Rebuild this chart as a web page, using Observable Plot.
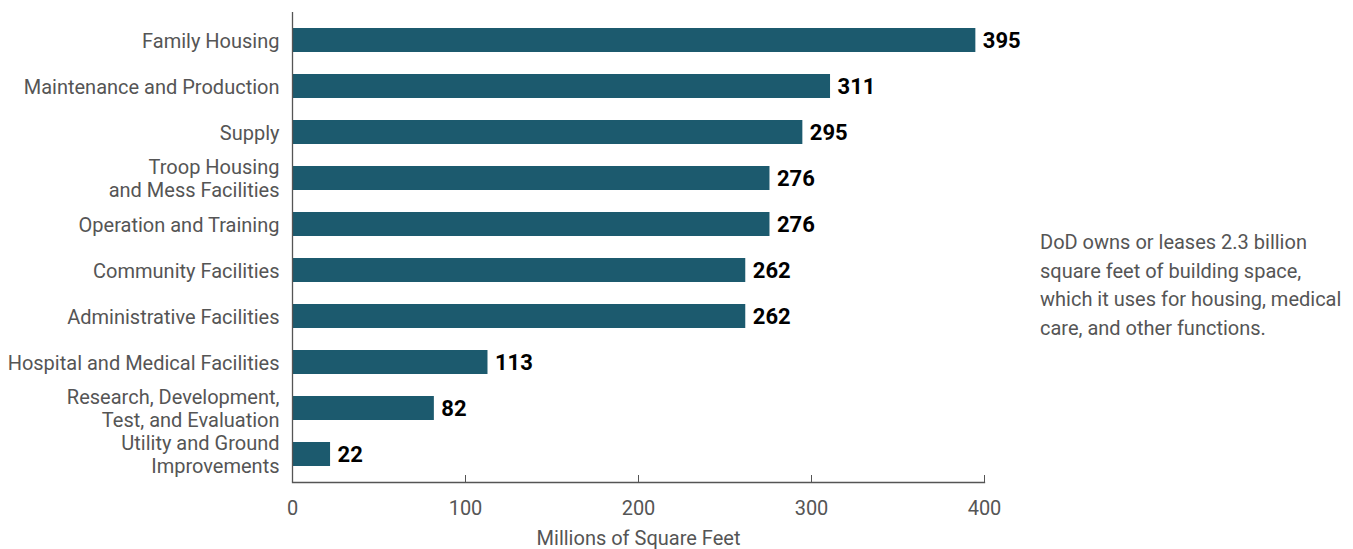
<!DOCTYPE html>
<html>
<head>
<meta charset="utf-8">
<script src="https://cdn.jsdelivr.net/npm/d3@7"></script>
<script src="https://cdn.jsdelivr.net/npm/@observablehq/plot@0.6"></script>
<style>
  html, body { margin: 0; padding: 0; background: #fff; }
  #wrap { position: relative; width: 1353px; height: 549px; font-family: Roboto, "Open Sans", sans-serif; }
  #note { position: absolute; left: 1040px; top: 228px; width: 310px; font-size: 20px; line-height: 28.5px; color: #555; }
</style>
</head>
<body>
<div id="wrap">
  <div id="chart"></div>
  <div id="note">DoD owns or leases 2.3 billion square feet of building space, which it uses for housing, medical care, and other functions.</div>
</div>
<script>
const categories = [
  "Family Housing",
  "Maintenance and Production",
  "Supply",
  "Troop Housing\nand Mess Facilities",
  "Operation and Training",
  "Community Facilities",
  "Administrative Facilities",
  "Hospital and Medical Facilities",
  "Research, Development,\nTest, and Evaluation",
  "Utility and Ground\nImprovements"
];
const values = [395, 311, 295, 276, 276, 262, 262, 113, 82, 22];
const xTicks = [0, 100, 200, 300, 400];
const xLabel = "Millions of Square Feet";

const data = categories.map((c, i) => ({category: c, value: values[i]}));

const chart = Plot.plot({
  width: 1353,
  height: 549,
  marginLeft: 292,
  marginRight: 369,
  marginTop: 12,
  marginBottom: 67,
  style: {fontFamily: "Roboto, sans-serif", fontSize: "20px", color: "#555", background: "#fff"},
  x: {domain: [0, 400]},
  y: {domain: categories, paddingInner: 0.48, paddingOuter: 0.33},
  marks: [
    Plot.barX(data, {x: "value", y: "category", fill: "#1c5a6e"}),
    Plot.text(data, {x: "value", y: "category", text: d => String(d.value), textAnchor: "start", dx: 7, fill: "#000", fontWeight: "bold", fontSize: 22}),
    Plot.ruleX([0], {stroke: "#555", strokeWidth: 1.3}),
    Plot.frame({anchor: "bottom", stroke: "#555", strokeWidth: 1.3}),
    Plot.axisY({tickSize: 0, tickPadding: 13, label: null, fill: "#555", fontSize: 20, lineHeight: 1.15}),
    Plot.axisX({ticks: xTicks, tickSize: -7, tickPadding: 25, label: xLabel, labelAnchor: "center", labelArrow: "none", labelOffset: 62, fill: "#555", fontSize: 20, stroke: "#555"})
  ]
});
document.getElementById("chart").appendChild(chart);
</script>
</body>
</html>
